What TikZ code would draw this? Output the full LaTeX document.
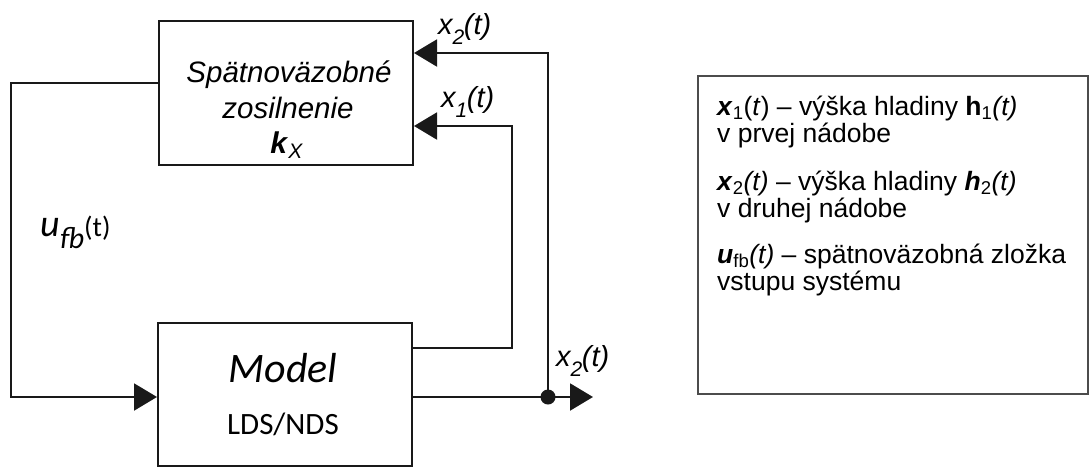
\documentclass[tikz,border=0pt]{standalone}
\usepackage{fontspec}
\setmainfont{Liberation Sans}
\newfontfamily\carlito{Carlito}
\usetikzlibrary{arrows.meta}

\begin{document}
\begin{tikzpicture}[x=1pt,y=-1pt,
  blk/.style={draw=black!90, line width=2pt, minimum width=254pt, inner sep=0pt, anchor=north west},
  wire/.style={draw=black!90, line width=2pt},
  tip/.style={-{Triangle[length=23pt,width=27pt]}},
  lbl/.style={inner sep=0pt, anchor=base west, font=\fontsize{29}{32}\selectfont\itshape},
  txt/.style={inner sep=0pt, anchor=base},
  leg/.style={inner sep=0pt, anchor=base west, font=\fontsize{26.5}{30}\selectfont}]
\useasboundingbox (0,0) rectangle (1089,466);
\fill[white] (0,0) rectangle (1089,466);

% blocks
\node[blk, minimum height=144pt] (gain) at (158,20) {};
\node[blk, minimum height=143pt] (model) at (157,322) {};

\node[txt, font=\fontsize{29.5}{34}\selectfont\itshape] (g1) at (289,82) {Spätnoväzobné};
\node[txt, font=\fontsize{29.5}{34}\selectfont\itshape] (g2) at (288,118) {zosilnenie};
\node[txt, font=\fontsize{30}{34}\selectfont] (g3) at (287,153) {\textbf{\textit{k}}\textsubscript{\textit{X}}};

\node[txt, font=\carlito\fontsize{42}{48}\selectfont\itshape] (m1) at (283,382) {Model};
\node[txt, font=\carlito\fontsize{31}{36}\selectfont] (m2) at (283,434) {LDS/NDS};

% feedback path u_fb
\path (gain.north west) ++(0,63) coordinate (gout);
\coordinate (lt) at (11,83);
\coordinate (lb) at (11,397);
\draw[wire,tip] (gout) -- (lt) -- (lb) -- (lb -| model.west);

% state x1
\path (model.north east) ++(0,26) coordinate (mout1);
\coordinate (r1) at (512,126);
\draw[wire,tip] (mout1) -| (r1) -- (r1 -| gain.east);

% state x2 and output
\coordinate (j) at (548,397);
\coordinate (out) at (593,397);
\coordinate (r2) at (548,53);
\draw[wire,tip] (model.east |- j) -- (out);
\draw[wire,tip] (j) -- (r2) -- (r2 -| gain.east);
\fill[black!90] (j) circle (7.5pt);

% signal labels
\node[lbl] (lx2) at (438,34) {x\raisebox{-10pt}{\fontsize{21}{24}\selectfont 2}\kern-0.5pt(t)};
\node[lbl] (lx1) at (441,107) {x\raisebox{-10pt}{\fontsize{21}{24}\selectfont 1}\kern-0.5pt(t)};
\node[lbl] (lx2o) at (556,366) {x\raisebox{-10pt}{\fontsize{21}{24}\selectfont 2}\kern-0.5pt(t)};
\node[inner sep=0pt, anchor=base west, font=\carlito] (lu) at (40,236)
  {\fontsize{38}{40}\selectfont\itshape u\raisebox{-12pt}{\fontsize{30}{32}\selectfont fb}\upshape\fontsize{28}{32}\selectfont(t)};

% legend
\node[draw=black!70, line width=1.5pt, minimum width=390pt, minimum height=318pt,
      anchor=north west, inner sep=0pt] (legend) at (697,75) {};
\node[leg] (t1) at (717,115) {\textbf{\textit{x}}\textsubscript{1}(\textit{t}) – výška hladiny \textbf{h}\textsubscript{1}\textit{(t)}};
\node[leg] (t2) at (717,142) {v prvej nádobe};
\node[leg] (t3) at (717,190) {\textbf{\textit{x}}\textsubscript{2}\textit{(t)} – výška hladiny \textbf{\textit{h}}\textsubscript{2}\textit{(t)}};
\node[leg] (t4) at (717,217) {v druhej nádobe};
\node[leg] (t5) at (717,263) {\textbf{\textit{u}}\textsubscript{fb}\textit{(t)} – spätnoväzobná zložka};
\node[leg] (t6) at (717,290) {vstupu systému};
\end{tikzpicture}
\end{document}
